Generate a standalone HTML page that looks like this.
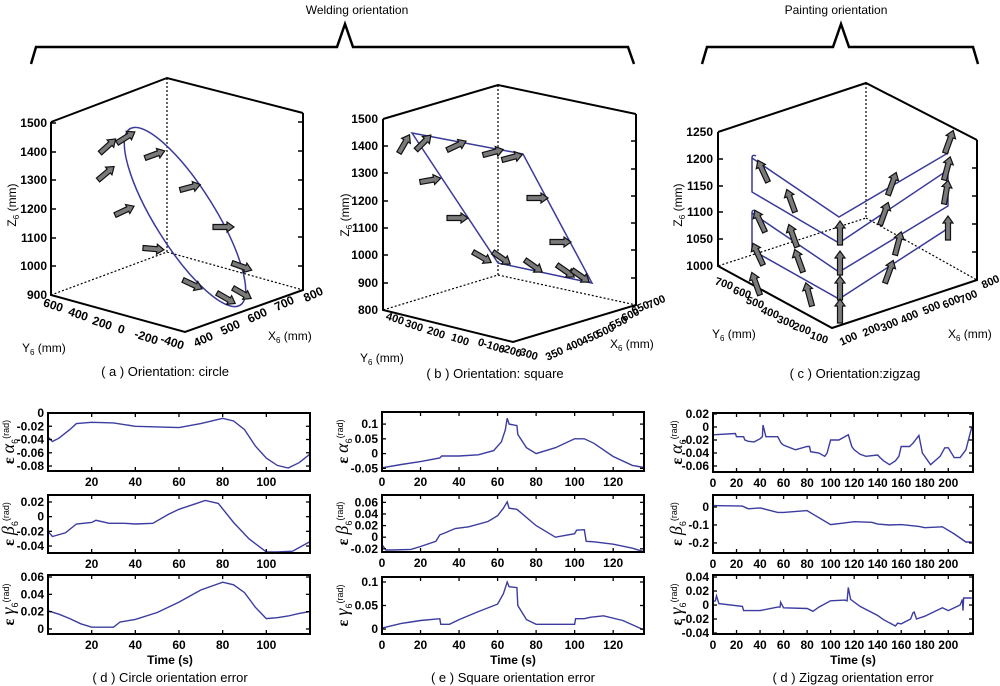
<!DOCTYPE html>
<html><head><meta charset="utf-8"><style>
html,body{margin:0;padding:0;background:#fff;}
svg{display:block;font-family:"Liberation Sans",Arial,sans-serif;}
</style></head><body>
<svg id="fig" width="1000" height="686" viewBox="0 0 1000 686" xmlns="http://www.w3.org/2000/svg">
<g fill="none" stroke="#000" stroke-width="2.5">
  <path d="M31,64 L36,47 L337,47 L345,24 L353,47 L628,47 L634,64"/>
  <path d="M702,64 L707,47 L833,47 L841,24 L849,47 L973,47 L978,64"/>
</g>
<text x="357" y="14" font-size="12" text-anchor="middle">Welding orientation</text>
<text x="836" y="14" font-size="12" text-anchor="middle">Painting orientation</text>

<!-- 3D plot a -->
<g font-size="12" font-weight="bold">
  <path d="M51,122 L167,78 L303,113 M51,122 L51,295 L185,332 L303,290 L303,113" fill="none" stroke="#000" stroke-width="2"/>
  <path d="M167,78 L167,252 L51,295 M167,252 L303,290" fill="none" stroke="#000" stroke-width="1.2" stroke-dasharray="2,2"/>
  <g stroke="#000" stroke-width="1.5">
    <line x1="51" y1="123" x2="56" y2="123"/><line x1="51" y1="152" x2="56" y2="152"/><line x1="51" y1="180" x2="56" y2="180"/><line x1="51" y1="209" x2="56" y2="209"/><line x1="51" y1="238" x2="56" y2="238"/><line x1="51" y1="266" x2="56" y2="266"/>
    <line x1="303" y1="122" x2="298" y2="122"/><line x1="303" y1="151" x2="298" y2="151"/><line x1="303" y1="180" x2="298" y2="180"/><line x1="303" y1="209" x2="298" y2="209"/><line x1="303" y1="237" x2="298" y2="237"/><line x1="303" y1="266" x2="298" y2="266"/>
  </g>
  <g text-anchor="end">
    <text x="47" y="127">1500</text><text x="47" y="156">1400</text><text x="47" y="184">1300</text><text x="47" y="213">1200</text><text x="47" y="242">1100</text><text x="47" y="270">1000</text><text x="47" y="299">900</text>
  </g>
  <g text-anchor="middle">
    <text transform="translate(52,309) rotate(18)">600</text><text transform="translate(77,318) rotate(18)">400</text><text transform="translate(101,327) rotate(18)">200</text><text transform="translate(120,333) rotate(18)">0</text><text transform="translate(145,341) rotate(18)">-200</text><text transform="translate(171,346) rotate(18)">-400</text>
    <text transform="translate(205,343) rotate(-25)">400</text><text transform="translate(232,331) rotate(-25)">500</text><text transform="translate(259,319) rotate(-25)">600</text><text transform="translate(286,307) rotate(-25)">700</text><text transform="translate(315,298) rotate(-25)">800</text>
  </g>
  <text x="22" y="352" font-weight="normal">Y<tspan font-size="8" dy="3">6</tspan><tspan dy="-3"> (mm)</tspan></text>
  <text x="268" y="340" font-weight="normal">X<tspan font-size="8" dy="3">6</tspan><tspan dy="-3"> (mm)</tspan></text>
  <text transform="translate(16,205) rotate(-90)" text-anchor="middle" font-weight="normal">Z<tspan font-size="8" dy="3">6</tspan><tspan dy="-3"> (mm)</tspan></text>
  <ellipse cx="185" cy="217" rx="104" ry="30" transform="rotate(58 185 217)" fill="none" stroke="#3a3a9a" stroke-width="1.5"/>
  <g id="arrowsA"></g>
  <text x="165" y="376" text-anchor="middle" font-size="13" font-weight="normal">( a ) Orientation: circle</text>
</g>

<!-- 3D plot b -->
<g font-size="12" font-weight="bold">
  <path d="M383,119 L498,85 L636,114 M383,119 L383,310 L513,342 L636,305 L636,114" fill="none" stroke="#000" stroke-width="2"/>
  <path d="M498,85 L498,275 L383,310 M498,275 L636,305" fill="none" stroke="#000" stroke-width="1.2" stroke-dasharray="2,2"/>
  <g stroke="#000" stroke-width="1.5">
    <line x1="383" y1="146" x2="388" y2="146"/><line x1="383" y1="173" x2="388" y2="173"/><line x1="383" y1="201" x2="388" y2="201"/><line x1="383" y1="228" x2="388" y2="228"/><line x1="383" y1="255" x2="388" y2="255"/><line x1="383" y1="283" x2="388" y2="283"/>
    <line x1="636" y1="141" x2="631" y2="141"/><line x1="636" y1="169" x2="631" y2="169"/><line x1="636" y1="196" x2="631" y2="196"/><line x1="636" y1="223" x2="631" y2="223"/><line x1="636" y1="250" x2="631" y2="250"/><line x1="636" y1="278" x2="631" y2="278"/>
  </g>
  <g text-anchor="end">
    <text x="378" y="123">1500</text><text x="378" y="150">1400</text><text x="378" y="177">1300</text><text x="378" y="205">1200</text><text x="378" y="232">1100</text><text x="378" y="259">1000</text><text x="378" y="287">900</text><text x="378" y="314">800</text>
  </g>
  <g text-anchor="middle" font-size="11">
    <text transform="translate(394,322) rotate(18)">400</text><text transform="translate(413,329) rotate(18)">300</text><text transform="translate(435,336) rotate(18)">200</text><text transform="translate(459,343) rotate(18)">100</text><text transform="translate(480,346) rotate(18)">0</text><text transform="translate(493,350) rotate(18)">-100</text><text transform="translate(510,354) rotate(18)">-200</text><text transform="translate(526,357) rotate(18)">-300</text>
    <text transform="translate(556,357) rotate(-25)">350</text><text transform="translate(576,348) rotate(-25)">400</text><text transform="translate(592,341) rotate(-25)">450</text><text transform="translate(607,334) rotate(-25)">500</text><text transform="translate(620,326) rotate(-25)">550</text><text transform="translate(632,318) rotate(-25)">600</text><text transform="translate(642,311) rotate(-25)">650</text><text transform="translate(658,305) rotate(-25)">700</text>
  </g>
  <text x="360" y="362" font-weight="normal">Y<tspan font-size="8" dy="3">6</tspan><tspan dy="-3"> (mm)</tspan></text>
  <text x="610" y="348" font-weight="normal">X<tspan font-size="8" dy="3">6</tspan><tspan dy="-3"> (mm)</tspan></text>
  <text transform="translate(349,215) rotate(-90)" text-anchor="middle" font-weight="normal">Z<tspan font-size="8" dy="3">6</tspan><tspan dy="-3"> (mm)</tspan></text>
  <path d="M412,133 L523,154 L592,283 L498,263 Z" fill="none" stroke="#3a3a9a" stroke-width="1.5"/>
  <g id="arrowsB"></g>
  <text x="495" y="378" text-anchor="middle" font-size="13" font-weight="normal">( b ) Orientation: square</text>
</g>

<!-- 3D plot c -->
<g font-size="12" font-weight="bold">
  <path d="M718,132 L866,83 L977,140 M718,132 L718,266 L832,328 L977,280 L977,140" fill="none" stroke="#000" stroke-width="2"/>
  <path d="M866,83 L866,218 L718,266 M866,218 L977,280" fill="none" stroke="#000" stroke-width="1.2" stroke-dasharray="2,2"/>
  <g stroke="#000" stroke-width="1.5">
    <line x1="718" y1="159" x2="723" y2="159"/><line x1="718" y1="186" x2="723" y2="186"/><line x1="718" y1="212" x2="723" y2="212"/><line x1="718" y1="239" x2="723" y2="239"/>
    <line x1="977" y1="168" x2="972" y2="168"/><line x1="977" y1="196" x2="972" y2="196"/><line x1="977" y1="224" x2="972" y2="224"/><line x1="977" y1="252" x2="972" y2="252"/>
  </g>
  <g text-anchor="end">
    <text x="713" y="136">1250</text><text x="713" y="163">1200</text><text x="713" y="190">1150</text><text x="713" y="216">1100</text><text x="713" y="243">1050</text><text x="713" y="270">1000</text>
  </g>
  <g text-anchor="middle" font-size="11">
    <text transform="translate(723,287) rotate(18)">700</text><text transform="translate(741,296) rotate(18)">600</text><text transform="translate(754,306) rotate(18)">500</text><text transform="translate(769,316) rotate(18)">400</text><text transform="translate(785,325) rotate(18)">300</text><text transform="translate(801,332) rotate(18)">200</text><text transform="translate(818,341) rotate(18)">100</text>
    <text transform="translate(850,342) rotate(-25)">100</text><text transform="translate(873,333) rotate(-25)">200</text><text transform="translate(891,328) rotate(-25)">300</text><text transform="translate(911,320) rotate(-25)">400</text><text transform="translate(933,311) rotate(-25)">500</text><text transform="translate(953,305) rotate(-25)">600</text><text transform="translate(970,300) rotate(-25)">700</text><text transform="translate(992,285) rotate(-25)">800</text>
  </g>
  <text x="712" y="338" font-weight="normal">Y<tspan font-size="8" dy="3">6</tspan><tspan dy="-3"> (mm)</tspan></text>
  <text x="948" y="338" font-weight="normal">X<tspan font-size="8" dy="3">6</tspan><tspan dy="-3"> (mm)</tspan></text>
  <text transform="translate(682,205) rotate(-90)" text-anchor="middle" font-weight="normal">Z<tspan font-size="8" dy="3">6</tspan><tspan dy="-3"> (mm)</tspan></text>
  <path fill="none" stroke="#3a3a9a" stroke-width="1.5"
   d="M948,145 L948,153 L839,217 L752,158 Q752,154 756,156 M752,158 L752,192 L839,243 L945,172 Q948,168 948,174 L948,206 L839,272 L752,213 Q752,209 756,211 M752,213 L752,250 L839,299 L944,231 Q948,227 948,233 L948,240"/>
  <g id="arrowsC"></g>
  <text x="855" y="378" text-anchor="middle" font-size="13" font-weight="normal">( c ) Orientation:zigzag</text>
</g>

<g id="panels"></g>
<text x="170" y="664" font-size="12" font-weight="bold" text-anchor="middle">Time (s)</text>
<text x="513" y="664" font-size="12" font-weight="bold" text-anchor="middle">Time (s)</text>
<text x="853" y="664" font-size="12" font-weight="bold" text-anchor="middle">Time (s)</text>
<text x="170" y="682" font-size="13" text-anchor="middle">( d ) Circle orientation error</text>
<text x="513" y="682" font-size="13" text-anchor="middle">( e ) Square orientation error</text>
<text x="853" y="682" font-size="13" text-anchor="middle">( d ) Zigzag orientation error</text>
</svg>
<script>
// ---- data ----
const circleAlphaT=[0,2,5,10,13,20,30,40,50,60,70,80,85,90,95,100,105,110,115,120];
const circleAlphaV=[-0.036,-0.043,-0.038,-0.025,-0.016,-0.014,-0.015,-0.020,-0.021,-0.022,-0.016,-0.008,-0.012,-0.025,-0.050,-0.068,-0.079,-0.083,-0.075,-0.062];
const circleBetaT=[0,2,8,13,20,22,28,35,40,48,55,60,68,72,78,85,92,100,105,112,120];
const circleBetaV=[-0.020,-0.027,-0.022,-0.010,-0.008,-0.005,-0.009,-0.009,-0.010,-0.009,0.003,0.010,0.018,0.022,0.018,-0.008,-0.030,-0.048,-0.048,-0.047,-0.034];
const circleGammaT=[0,5,10,15,20,25,30,33,40,50,60,70,80,85,90,95,100,105,110,115,120];
const circleGammaV=[0.021,0.017,0.012,0.006,0.002,0.002,0.002,0.008,0.011,0.019,0.031,0.045,0.054,0.051,0.042,0.025,0.012,0.013,0.015,0.018,0.020];
const squareAlphaT=[0,10,20,30,31,40,50,58,62,64,65,66,70,70.5,75,80,90,100,105,110,120,130,136];
const squareAlphaV=[-0.048,-0.037,-0.027,-0.015,-0.008,-0.008,-0.004,0.01,0.04,0.08,0.12,0.10,0.095,0.065,0.02,0.0,0.02,0.05,0.05,0.035,-0.01,-0.04,-0.047];
const squareBetaT=[0,2,5,15,20,28,30,33,38,45,55,60,63,65,66,70,80,90,100,101,105,106,110,120,130,136];
const squareBetaV=[-0.013,-0.022,-0.022,-0.021,-0.016,-0.007,0.004,0.008,0.015,0.018,0.027,0.037,0.050,0.061,0.050,0.048,0.020,0.0,0.006,0.012,0.013,-0.007,-0.008,-0.012,-0.019,-0.025];
const squareGammaT=[0,10,15,20,30,30.5,35,40,50,60,63,65,66,70,70.5,75,80,100,100.5,105,108,115,125,136];
const squareGammaV=[0.002,0.012,0.015,0.018,0.022,0.010,0.010,0.020,0.037,0.053,0.075,0.100,0.090,0.088,0.050,0.020,0.010,0.010,0.022,0.022,0.025,0.028,0.018,-0.002];
const zigAlphaT=[0,19,20,26,27,30,35,40,42,42.5,45,55,58,60,70,80,82,83,90,95,97,100,107,115,118,120,125,130,140,142,145,150,155,158,160,167,170,175,178,185,190,193,197,200,205,210,215,220];
const zigAlphaV=[-0.012,-0.010,-0.015,-0.015,-0.020,-0.022,-0.023,-0.018,-0.015,0.003,-0.015,-0.015,-0.025,-0.028,-0.035,-0.030,-0.030,-0.038,-0.040,-0.045,-0.040,-0.020,-0.020,-0.012,-0.030,-0.035,-0.042,-0.045,-0.043,-0.047,-0.052,-0.058,-0.052,-0.045,-0.030,-0.030,-0.025,-0.013,-0.040,-0.058,-0.050,-0.045,-0.032,-0.032,-0.047,-0.047,-0.035,0.000];
const zigBetaT=[0,25,30,40,55,60,80,85,100,110,120,135,140,150,160,175,180,195,205,215,220];
const zigBetaV=[0.008,0.005,-0.010,-0.005,-0.030,-0.030,-0.020,-0.040,-0.098,-0.090,-0.082,-0.085,-0.095,-0.100,-0.098,-0.108,-0.115,-0.110,-0.150,-0.195,-0.195];
const zigGammaT=[0,2,3,5,25,26,40,55,57,57.5,60,80,85,90,100,112,114,115,117,125,140,145,155,157,160,168,170,171,173,180,195,200,210,212,212.5,213,220];
const zigGammaV=[0.005,0.006,0.013,0.002,-0.002,-0.008,-0.008,-0.003,-0.003,0.004,-0.004,-0.005,-0.009,-0.003,0.006,0.007,0.006,0.025,0.008,-0.002,-0.015,-0.021,-0.030,-0.026,-0.027,-0.020,-0.011,-0.010,-0.020,-0.016,-0.004,-0.008,0.000,0.008,-0.008,0.010,0.010];
const circleXTicks=[20,40,60,80,100];
const squareXTicks=[0,20,40,60,80,100,120];
const zigXTicks=[0,20,40,60,80,100,120,140,160,180,200];
const cAlphaTicks=[0,-0.02,-0.04,-0.06,-0.08];
const cBetaTicks=[0.02,0,-0.02,-0.04];
const cGammaTicks=[0.06,0.04,0.02,0];
const sAlphaTicks=[0.1,0.05,0,-0.05];
const sBetaTicks=[0.06,0.04,0.02,0,-0.02];
const sGammaTicks=[0.1,0.05,0];
const zAlphaTicks=[0.02,0,-0.02,-0.04,-0.06];
const zBetaTicks=[0,-0.1,-0.2];
const zGammaTicks=[0.04,0.02,0,-0.02,-0.04];

const NS='http://www.w3.org/2000/svg';
function mk(tag,attrs,parent){const e=document.createElementNS(NS,tag);for(const k in attrs)e.setAttribute(k,attrs[k]);parent.appendChild(e);return e;}
const panelsG=document.getElementById('panels');

function panel(name,box,xd,yd,T,V,xt,yt,greek,labX){
  const [x0,x1,y0,y1]=box;
  const g=mk('g',{},panelsG);
  
  
  const sx=t=>x0+(t-xd[0])/(xd[1]-xd[0])*(x1-x0);
  const sy=v=>y1-(v-yd[0])/(yd[1]-yd[0])*(y1-y0);
  let d='';
  for(let i=0;i<T.length;i++){d+=(i?'L':'M')+sx(T[i]).toFixed(1)+','+sy(V[i]).toFixed(1);}
  const line=mk('path',{d:d,fill:'none',stroke:'#3c3ca0','stroke-width':1.4},g);
  
  
  const fr=mk('rect',{x:x0,y:y0,width:x1-x0,height:y1-y0,fill:'none',stroke:'#000','stroke-width':2},g);
  
  
  xt.forEach(t=>{const x=sx(t);
    mk('line',{x1:x,x2:x,y1:y1,y2:y1-4,stroke:'#000','stroke-width':1.3},g);
    mk('line',{x1:x,x2:x,y1:y0,y2:y0+4,stroke:'#000','stroke-width':1.3},g);
    const tx=mk('text',{x:x,y:y1+15,'font-size':12,'font-weight':'bold','text-anchor':'middle'},g);tx.textContent=t;
    
    
  });
  yt.forEach(v=>{const y=sy(v);
    mk('line',{x1:x0,x2:x0+4,y1:y,y2:y,stroke:'#000','stroke-width':1.3},g);
    mk('line',{x1:x1,x2:x1-4,y1:y,y2:y,stroke:'#000','stroke-width':1.3},g);
    const tx=mk('text',{x:x0-4,y:y+4,'font-size':12,'font-weight':'bold','text-anchor':'end'},g);tx.textContent=v;
    
    
  });
  const cy=(y0+y1)/2;
  const lab=mk('text',{transform:`translate(${labX},${cy}) rotate(-90)`,'text-anchor':'middle','font-size':13},g);
  
  
  lab.innerHTML=`<tspan font-family="Liberation Serif,serif" font-weight="bold" font-size="16">ε </tspan><tspan font-family="Liberation Serif,serif" font-style="italic" font-size="18">${greek}</tspan><tspan font-size="9" dy="4">6</tspan><tspan font-size="9" dy="-9">(rad)</tspan>`;
}
panel('circle-alpha-panel',[48,310,413,471],[0,120],[-0.0875,0],circleAlphaT,circleAlphaV,circleXTicks,cAlphaTicks,'α',14);
panel('circle-beta-panel',[48,310,495,553],[0,120],[-0.0495,0.0295],circleBetaT,circleBetaV,circleXTicks,cBetaTicks,'β',14);
panel('circle-gamma-panel',[48,310,575,634],[0,120],[-0.0058,0.0623],circleGammaT,circleGammaV,circleXTicks,cGammaTicks,'γ',14);
panel('square-alpha-panel',[382,644,412,471],[0,136],[-0.059,0.141],squareAlphaT,squareAlphaV,squareXTicks,sAlphaTicks,'α',348);
panel('square-beta-panel',[382,644,495,552],[0,136],[-0.0255,0.0727],squareBetaT,squareBetaV,squareXTicks,sBetaTicks,'β',348);
panel('square-gamma-panel',[382,644,577,634],[0,136],[-0.0106,0.1106],squareGammaT,squareGammaV,squareXTicks,sGammaTicks,'γ',348);
panel('zigzag-alpha-panel',[713,973,413,472],[0,221],[-0.0692,0.0215],zigAlphaT,zigAlphaV,zigXTicks,zAlphaTicks,'α',682);
panel('zigzag-beta-panel',[713,973,495,553],[0,221],[-0.256,0.0667],zigBetaT,zigBetaV,zigXTicks,zBetaTicks,'β',682);
panel('zigzag-gamma-panel',[713,973,575,634],[0,221],[-0.0414,0.0429],zigGammaT,zigGammaV,zigXTicks,zGammaTicks,'γ',682);

// orientation arrows (x,y of tail, angle)
function arrows(id,list,len){
  const g=document.getElementById(id);
  list.forEach(a=>{
    const p=mk('polygon',{points:`0,-2.5 ${len-7},-2.5 ${len-7},-5 ${len},0 ${len-7},5 ${len-7},2.5 0,2.5`,fill:'#7a7a7a',stroke:'#111','stroke-width':1.2,transform:`translate(${a[0]},${a[1]}) rotate(${a[2]})`},g);
    
    
  });
}
arrows('arrowsA',[[100,153,-42],[117,143,-32],[98,180,-40],[115,215,-25],[145,158,-20],[143,248,5],[180,190,-15],[213,227,0],[232,263,20],[183,280,25],[217,293,30],[233,288,30]],21);
arrows('arrowsB',[[399,153,-60],[416,150,-45],[447,150,-25],[483,155,-15],[502,160,-15],[420,182,-10],[527,198,0],[447,218,0],[550,242,0],[473,252,30],[493,252,35],[525,260,35],[557,265,35],[572,270,35]],21);
arrows('arrowsC',[[768,182,-115],[795,212,-110],[765,232,-115],[797,247,-110],[763,265,-115],[803,272,-110],[760,295,-110],[812,306,-105],[840,245,-90],[840,275,-90],[840,300,-90],[840,323,-90],[888,195,-70],[880,225,-70],[895,255,-75],[885,283,-70],[945,153,-70],[944,180,-75],[944,204,-80],[948,240,-90]],24);
</script>
</body></html>
